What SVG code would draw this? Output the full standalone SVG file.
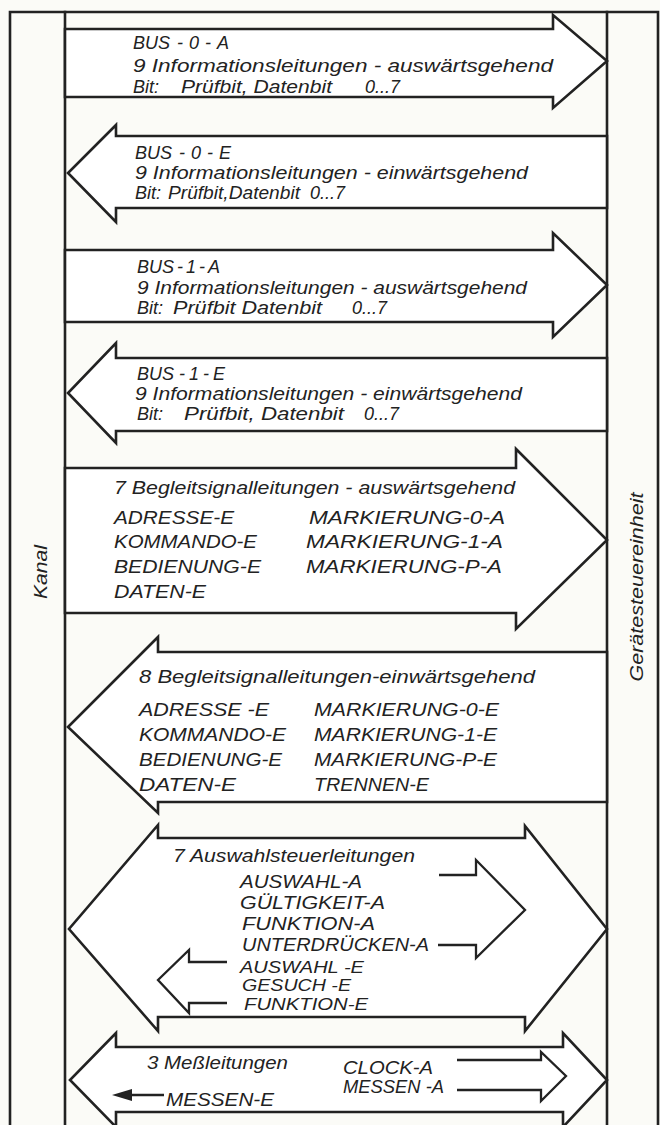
<svg xmlns="http://www.w3.org/2000/svg" width="660" height="1125" viewBox="0 0 660 1125">
<style>
.ln{fill:none;stroke:#222;stroke-width:2.6;stroke-linejoin:miter;stroke-linecap:square}
.ar{fill:#fff;stroke:#222;stroke-width:2.6;stroke-linejoin:miter}
.sm{fill:none;stroke:#222;stroke-width:2.3;stroke-linejoin:miter}
text{font-family:"Liberation Sans",Arial,sans-serif;font-style:italic;font-size:18px;fill:#222}
.lab{font-size:18px}
.tight{font-size:16px}
</style>
<rect x="0" y="0" width="660" height="1125" fill="#fbfbf7"/>
<g id="frame">
<path class="ln" d="M10,1125 V12 H658 V1125"/>
<line class="ln" x1="65" y1="12" x2="65" y2="1125"/>
<line class="ln" x1="607" y1="12" x2="607" y2="1125"/>
<text class="lab" x="47" y="572" text-anchor="middle" textLength="54" lengthAdjust="spacingAndGlyphs" transform="rotate(-90 47 572)">Kanal</text>
<text class="lab" x="643" y="587" text-anchor="middle" textLength="189" lengthAdjust="spacingAndGlyphs" transform="rotate(-90 643 587)">Gerätesteuereinheit</text>
</g>
<g id="bus0a">
<polygon class="ar" points="65,29 553,29 553,15 607,61 553,108 553,97 65,97"/>
<text x="133" y="49">BUS<tspan dx="7">-</tspan><tspan dx="6">0</tspan><tspan dx="6">-</tspan><tspan dx="6">A</tspan></text>
<text x="133" y="72" textLength="420" lengthAdjust="spacingAndGlyphs">9 Informationsleitungen - auswärtsgehend</text>
<text y="93"><tspan x="133">Bit:</tspan> <tspan x="181" textLength="151" lengthAdjust="spacingAndGlyphs">Prüfbit, Datenbit</tspan> <tspan x="365">0...7</tspan></text>
</g>
<g id="bus0e">
<polygon class="ar" points="607,136 116,136 116,125 68,173 116,222 116,208 607,208"/>
<text x="135" y="159">BUS<tspan dx="7">-</tspan><tspan dx="6">0</tspan><tspan dx="6">-</tspan><tspan dx="6">E</tspan></text>
<text x="135" y="179" textLength="393" lengthAdjust="spacingAndGlyphs">9 Informationsleitungen - einwärtsgehend</text>
<text y="199"><tspan x="135">Bit:</tspan> <tspan x="168" textLength="132" lengthAdjust="spacingAndGlyphs">Prüfbit,Datenbit</tspan> <tspan x="310">0...7</tspan></text>
</g>
<g id="bus1a">
<polygon class="ar" points="65,250 553,250 553,233 607,285 553,337 553,322 65,322"/>
<text x="137" y="273">BUS<tspan dx="3">-</tspan><tspan dx="3">1</tspan><tspan dx="3">-</tspan><tspan dx="3">A</tspan></text>
<text x="137" y="294" textLength="390" lengthAdjust="spacingAndGlyphs">9 Informationsleitungen - auswärtsgehend</text>
<text y="314"><tspan x="137">Bit:</tspan> <tspan x="173" textLength="149" lengthAdjust="spacingAndGlyphs">Prüfbit Datenbit</tspan> <tspan x="352">0...7</tspan></text>
</g>
<g id="bus1e">
<polygon class="ar" points="607,358 116,358 116,343 68,393 116,443 116,431 607,431"/>
<text x="137" y="380">BUS<tspan dx="5">-</tspan><tspan dx="4">1</tspan><tspan dx="4">-</tspan><tspan dx="4">E</tspan></text>
<text x="135" y="400" textLength="387" lengthAdjust="spacingAndGlyphs">9 Informationsleitungen - einwärtsgehend</text>
<text y="420"><tspan x="137">Bit:</tspan> <tspan x="184" textLength="160" lengthAdjust="spacingAndGlyphs">Prüfbit, Datenbit</tspan> <tspan x="364">0...7</tspan></text>
</g>
<g id="begleit-a">
<polygon class="ar" points="65,468 516,468 516,449 607,540 516,629 516,613 65,613"/>
<text x="114" y="494" textLength="401" lengthAdjust="spacingAndGlyphs">7 Begleitsignalleitungen - auswärtsgehend</text>
<text x="114" y="524" textLength="120" lengthAdjust="spacingAndGlyphs">ADRESSE-E</text>
<text x="114" y="548" textLength="143" lengthAdjust="spacingAndGlyphs">KOMMANDO-E</text>
<text x="114" y="573" textLength="147" lengthAdjust="spacingAndGlyphs">BEDIENUNG-E</text>
<text x="114" y="598" textLength="92" lengthAdjust="spacingAndGlyphs">DATEN-E</text>
<text x="309" y="524" textLength="196" lengthAdjust="spacingAndGlyphs">MARKIERUNG-0-A</text>
<text x="306" y="548" textLength="197" lengthAdjust="spacingAndGlyphs">MARKIERUNG-1-A</text>
<text x="306" y="573" textLength="196" lengthAdjust="spacingAndGlyphs">MARKIERUNG-P-A</text>
</g>
<g id="begleit-e">
<polygon class="ar" points="607,652 158,652 158,637 68,727 158,813 158,802 607,802"/>
<text x="139" y="683" textLength="396" lengthAdjust="spacingAndGlyphs">8 Begleitsignalleitungen-einwärtsgehend</text>
<text x="139" y="716" textLength="130" lengthAdjust="spacingAndGlyphs">ADRESSE -E</text>
<text x="139" y="741" textLength="147" lengthAdjust="spacingAndGlyphs">KOMMANDO-E</text>
<text x="139" y="766" textLength="143" lengthAdjust="spacingAndGlyphs">BEDIENUNG-E</text>
<text x="139" y="791" textLength="97" lengthAdjust="spacingAndGlyphs">DATEN-E</text>
<text x="314" y="716" textLength="185" lengthAdjust="spacingAndGlyphs">MARKIERUNG-0-E</text>
<text x="314" y="741" textLength="183" lengthAdjust="spacingAndGlyphs">MARKIERUNG-1-E</text>
<text x="314" y="766" textLength="183" lengthAdjust="spacingAndGlyphs">MARKIERUNG-P-E</text>
<text x="314" y="791" textLength="115" lengthAdjust="spacingAndGlyphs">TRENNEN-E</text>
</g>
<g id="auswahl">
<polygon class="ar" points="158,838 525,838 525,826 607,929 525,1031 525,1017 158,1017 158,1031 69,929 158,825"/>
<text x="173" y="862" textLength="242" lengthAdjust="spacingAndGlyphs">7 Auswahlsteuerleitungen</text>
<text x="240" y="888" textLength="122" lengthAdjust="spacingAndGlyphs">AUSWAHL-A</text>
<text x="240" y="909" textLength="145" lengthAdjust="spacingAndGlyphs">GÜLTIGKEIT-A</text>
<text x="242" y="930" textLength="133" lengthAdjust="spacingAndGlyphs">FUNKTION-A</text>
<text x="242" y="951" textLength="187" lengthAdjust="spacingAndGlyphs">UNTERDRÜCKEN-A</text>
<text class="tight" x="240" y="973" textLength="124" lengthAdjust="spacingAndGlyphs">AUSWAHL -E</text>
<text class="tight" x="242" y="991" textLength="109" lengthAdjust="spacingAndGlyphs">GESUCH -E</text>
<text class="tight" x="244" y="1010" textLength="124" lengthAdjust="spacingAndGlyphs">FUNKTION-E</text>
</g>
<g id="messen">
<polygon class="ar" points="116,1047 563,1047 563,1033 607,1080 563,1127 563,1112 116,1112 116,1127 70,1080 116,1033"/>
<text x="147" y="1069" textLength="141" lengthAdjust="spacingAndGlyphs">3 Meßleitungen</text>
<text x="343" y="1074" textLength="90" lengthAdjust="spacingAndGlyphs">CLOCK-A</text>
<text x="343" y="1093" textLength="101" lengthAdjust="spacingAndGlyphs">MESSEN -A</text>
<text x="166" y="1106" textLength="108" lengthAdjust="spacingAndGlyphs">MESSEN-E</text>
</g>
<g id="connectors">
<polyline class="sm" points="439,875 476,875 476,860 525,910 476,958 476,945 438,945"/>
<polyline class="sm" points="227,962 189,962 189,950 158,980 189,1013 189,1003 227,1003"/>
<polyline class="sm" points="457,1060 541,1060 541,1052 566,1076 541,1101 541,1090 457,1090"/>
<line class="sm" x1="164" y1="1095" x2="128" y2="1095"/>
<polygon points="112,1095 132,1089 132,1101" fill="#222"/>
</g>
</svg>
